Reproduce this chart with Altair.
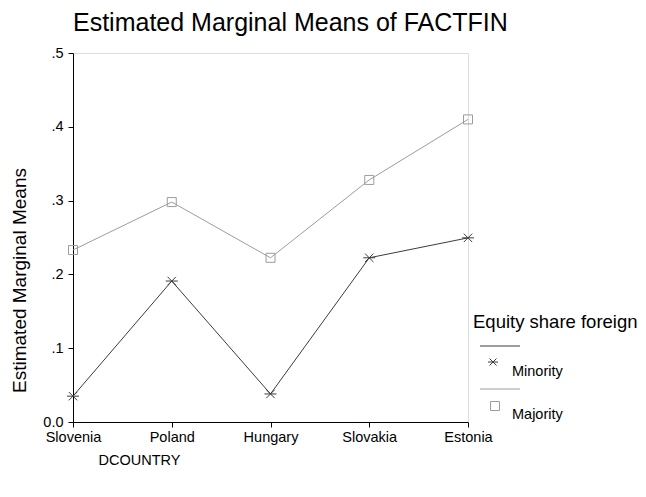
import altair as alt
import pandas as pd

countries = ["Slovenia", "Poland", "Hungary", "Slovakia", "Estonia"]
series = ["Minority", "Majority"]
minority = [0.035, 0.191, 0.038, 0.2225, 0.2495]
majority = [0.233, 0.298, 0.2225, 0.328, 0.410]
y_ticks = [0.0, 0.1, 0.2, 0.3, 0.4, 0.5]
legend_title = "Equity share foreign"

rows = []
for c, v in zip(countries, minority):
    rows.append({"DCOUNTRY": c, "group": "Minority", "mean": v})
for c, v in zip(countries, majority):
    rows.append({"DCOUNTRY": c, "group": "Majority", "mean": v})
df = pd.DataFrame(rows)

FONT = "Liberation Sans"
colors = ["#3c3c3c", "#9c9c9c"]

# marker shapes (unit paths)
star = "M-1,0L1,0M-0.7,-0.7L0.7,0.7M-0.7,0.7L0.7,-0.7"
square = "M-0.75,-0.75H0.75V0.75H-0.75Z"
shapes = [star, square]

x_enc = alt.X(
    "DCOUNTRY:N",
    sort=countries,
    scale=alt.Scale(type="point", padding=0),
    axis=alt.Axis(
        title="DCOUNTRY",
        titleX=25, titleY=38, titleAlign="left", titleBaseline="middle",
        titleFontSize=14.5, titleFontWeight="normal", titleFont=FONT,
        labelAngle=0, labelFontSize=14.5, labelFont=FONT, labelPadding=3,
        tickSize=5, domainColor="black", tickColor="black", labelColor="black",
        titleColor="black",
    ),
)
y_enc = alt.Y(
    "mean:Q",
    scale=alt.Scale(domain=[0, 0.5], nice=False, zero=True),
    axis=alt.Axis(
        title="Estimated Marginal Means",
        values=y_ticks,
        labelExpr="datum.value == 0 ? '0.0' : substring(format(datum.value, '.1f'), 1)",
        titleX=-54, titleY=227, titleAngle=-90, titleAlign="center", titleBaseline="middle",
        titleFontSize=19, titleFontWeight="normal", titleFont=FONT,
        labelFontSize=14.5, labelFont=FONT, labelPadding=5,
        tickSize=5, grid=False, domainColor="black", tickColor="black",
        labelColor="black", titleColor="black",
    ),
)
color_scale = alt.Scale(domain=series, range=colors)

lines = alt.Chart(df).mark_line(strokeWidth=1).encode(
    x=x_enc,
    y=y_enc,
    color=alt.Color("group:N", scale=color_scale, legend=None),
    detail="group:N",
)

points = alt.Chart(df).mark_point(filled=False, strokeWidth=1, size=144, opacity=1).encode(
    x=x_enc,
    y=y_enc,
    shape=alt.condition("datum.group == 'Minority'", alt.value(star), alt.value(square)),
    color=alt.Color("group:N", scale=color_scale, legend=None),
)

# legend (drawn as a small key to the right of the plot)
LX, LY = 400, 275          # title position, relative to plot origin
ROW0, STEP = 18, 43        # first line sample offset, row step
leg_layers = [
    alt.Chart(pd.DataFrame({"t": [legend_title]})).mark_text(
        align="left", baseline="alphabetic", fontSize=18.5, font=FONT, color="black"
    ).encode(text="t:N", x=alt.value(LX), y=alt.value(LY))
]
for i, (name, col, shp) in enumerate(zip(series, colors, shapes)):
    y_line = LY + ROW0 + i * STEP
    one = pd.DataFrame({"group": [name]})
    leg_layers.append(
        alt.Chart(one).mark_rule(color=col, strokeWidth=1).encode(
            x=alt.value(LX + 7), x2=alt.value(LX + 47), y=alt.value(y_line)
        )
    )
    leg_layers.append(
        alt.Chart(one).mark_point(
            shape=shp, filled=False, color=col, strokeWidth=1, opacity=1,
            size=100 if i == 0 else 144,
        ).encode(x=alt.value(LX + 20 + 2 * i), y=alt.value(y_line + 16 + i))
    )
    leg_layers.append(
        alt.Chart(one).mark_text(
            align="left", baseline="middle", fontSize=14.5, font=FONT, color="black"
        ).encode(text="group:N", x=alt.value(LX + 39), y=alt.value(y_line + 26))
    )

chart = (
    alt.layer(lines, points, *leg_layers)
    .properties(
        width=395, height=369,
        title=alt.TitleParams(
            "Estimated Marginal Means of FACTFIN",
            anchor="start", frame="group", fontSize=25, font=FONT,
            fontWeight="normal", color="black", offset=8.7,
        ),
        autosize=alt.AutoSizeParams(type="none"),
        padding={"left": 65, "top": 45, "right": 170, "bottom": 67},
    )
    .configure_view(stroke="black", strokeWidth=1)
    .configure(background="white")
)

chart.save("out.html", embed_options={"renderer": "svg", "actions": False})
